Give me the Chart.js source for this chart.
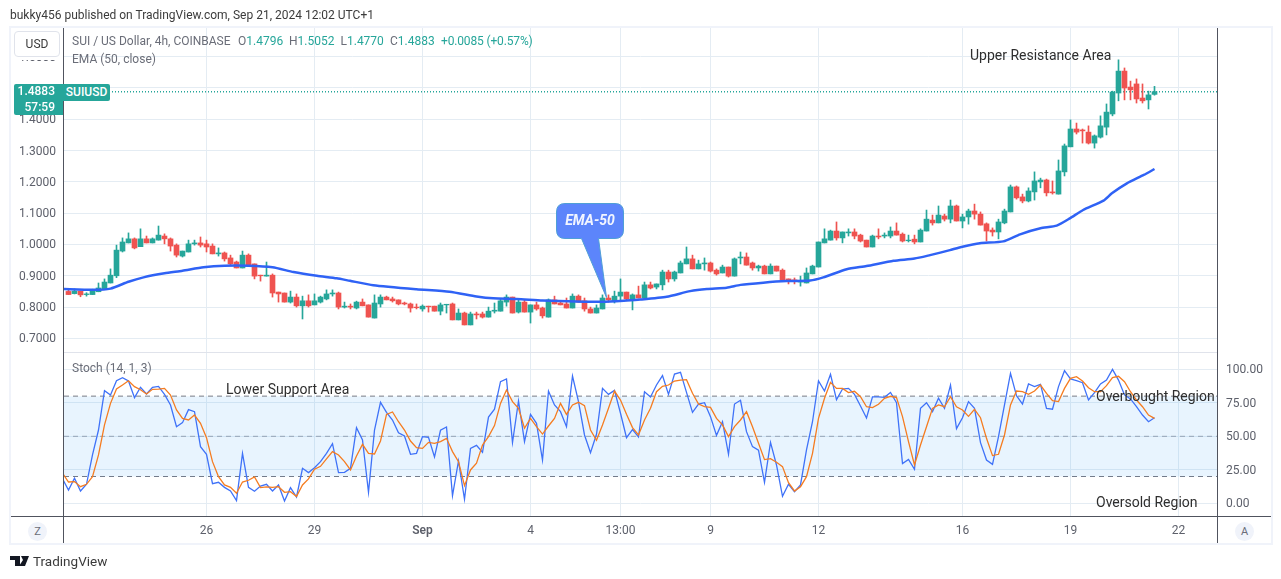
<!DOCTYPE html>
<html>
<head>
<meta charset="utf-8">
<title>SUI / US Dollar</title>
<script src="https://cdn.jsdelivr.net/npm/chart.js@4"></script>
<style>
  html, body { margin: 0; padding: 0; background: #fff; }
  body { width: 1281px; height: 579px; position: relative; overflow: hidden; font-family: Roboto, sans-serif; }
  canvas { position: absolute; left: 0; top: 0; }
  .t { position: absolute; white-space: nowrap; line-height: 16px; }
  .legend { font-size: 12px; color: #6a6d78; }
  .legend b { font-weight: 400; color: #26a69a; }
  .note { font-size: 14px; color: #2e2e2e; }
  .frame { position: absolute; }
  .tag { position: absolute; background: #26a69a; color: #fff; font-size: 12px; font-weight: 500; box-sizing: border-box; }
  .circle { position: absolute; width: 19px; height: 19px; border-radius: 50%; background: #f0f3fa; color: #6a6d78; font-size: 11px; line-height: 19px; text-align: center; }
</style>
</head>
<body>
<canvas id="priceChart" width="1281" height="579"></canvas>
<canvas id="stochChart" width="1281" height="579"></canvas>

<div class="frame" style="left:9px;top:26px;width:1260px;height:515px;border:2px solid #f0f3fa"></div>
<div class="frame" style="left:63px;top:28px;width:1px;height:515px;background:#50535e"></div>
<div class="frame" style="left:1217px;top:28px;width:1px;height:515px;background:#50535e"></div>
<div class="frame" style="left:11px;top:516px;width:1260px;height:1px;background:#50535e"></div>
<div class="frame" style="left:64px;top:352px;width:1153px;height:1px;background:#e0e3eb"></div>

<div class="t" style="left:10px;top:7px;font-size:12px;color:#3b3b3b">bukky456 published on TradingView.com, Sep 21, 2024 12:02 UTC+1</div>

<div class="frame" style="left:12px;top:29px;width:50px;height:31px;background:#fff"></div>
<div class="frame" style="left:14px;top:31px;width:44px;height:24px;border:1px solid #e0e3eb;border-radius:4px;background:#fff;font-size:12px;line-height:24px;text-align:center;color:#3b3b3b">USD</div>

<div class="t legend" style="left:72px;top:33px">SUI / US Dollar, 4h, COINBASE</div>
<div class="t legend" style="left:238px;top:33px">O<b>1.4796</b></div>
<div class="t legend" style="left:289px;top:33px">H<b>1.5052</b></div>
<div class="t legend" style="left:340.5px;top:33px">L<b>1.4770</b></div>
<div class="t legend" style="left:390px;top:33px">C<b>1.4883</b></div>
<div class="t legend" style="left:441px;top:33px;letter-spacing:-0.15px"><b>+0.0085 (+0.57%)</b></div>
<div class="t legend" style="left:72px;top:51px">EMA (50, close)</div>
<div class="t legend" style="left:72px;top:360px">Stoch (14, 1, 3)</div>

<div class="tag" style="left:14px;top:84px;width:49px;height:31px;border-radius:2px 0 0 2px;text-align:right;line-height:15.5px;padding-right:8px">1.4883<br>57:59</div>
<div class="tag" style="left:63px;top:84px;width:47px;height:17px;border-radius:0 2px 2px 0;text-align:center;line-height:17px">SUIUSD</div>

<div class="t note" style="left:970px;top:47px">Upper Resistance Area</div>
<div class="t note" style="left:226px;top:381px">Lower Support Area</div>
<div class="t note" style="left:1096px;top:388px">Overbought Region</div>
<div class="t note" style="left:1096px;top:494px">Oversold Region</div>

<svg class="frame" style="left:0;top:0" width="1281" height="579">
  <path d="M565 203.5 H615 Q623.5 203.5 623.5 212 V230 Q623.5 238.5 615 238.5 H598.5 L606.5 297.5 L581.5 238.5 H565 Q556.5 238.5 556.5 230 V212 Q556.5 203.5 565 203.5 Z" fill="#5c85fb" stroke="#4f9fd6" stroke-width="1"/>
  <text x="590" y="225" text-anchor="middle" font-family="Roboto" font-size="14" font-weight="700" font-style="italic" fill="#f2f5ff">EMA-50</text>
  <path d="M10 556 H20 V566 H15 V560 H10 Z M21 556 H29 L25 566 H19 L23 560 Z" fill="#131722"/>
</svg>
<div class="t" style="left:33px;top:553px;font-size:13.5px;color:#3b3b3b">TradingView</div>

<div class="circle" style="left:28px;top:522px">Z</div>
<div class="circle" style="left:1235px;top:522px">A</div>

<script>
// 4h candles
const opens = [
  .850,.843,.851,.840,.840,.849,.857,.877,.900,.979,
  1.005,1.018,.993,1.018,1.005,1.014,1.027,1.018,.998,.963,
  .976,1.002,1.005,1.002,.995,.970,.973,.957,.944,.925,
  .966,.938,.902,.899,.902,.848,.845,.816,.832,.804,
  .820,.807,.816,.826,.842,.845,.800,.803,.797,.816,
  .807,.765,.810,.832,.826,.823,.813,.810,.800,.794,
  .803,.803,.787,.807,.810,.759,.781,.743,.778,.778,
  .768,.787,.787,.816,.832,.784,.816,.784,.807,.797,
  .768,.823,.813,.810,.797,.835,.820,.794,.781,.794,
  .829,.820,.835,.848,.826,.839,.829,.871,.864,.871,
  .912,.890,.909,.938,.954,.922,.938,.941,.918,.909,
  .928,.899,.957,.960,.941,.925,.931,.906,.931,.918,
  .890,.887,.880,.877,.906,.928,1.005,1.014,1.043,1.021,
  1.037,1.040,1.030,1.014,.992,1.027,1.027,1.027,1.043,1.033,
  1.012,1.017,1.008,1.043,1.078,1.069,1.091,1.081,1.123,1.075,
  1.088,1.107,1.097,1.066,1.046,1.040,1.069,1.104,1.184,1.152,
  1.139,1.168,1.200,1.206,1.168,1.161,1.232,1.312,1.369,1.366,
  1.359,1.324,1.343,1.375,1.417,1.484,1.554,1.503,1.513,1.468,
  1.462,1.4796
];
const highs = [
  .857,.858,.851,.846,.857,.877,.890,.922,.998,1.021,
  1.037,1.021,1.050,1.027,1.021,1.059,1.034,1.021,1.002,.979,
  1.014,1.014,1.024,1.014,1.002,.989,.976,.966,.947,.979,
  .970,.938,.902,.944,.906,.848,.845,.851,.842,.835,
  .839,.842,.835,.855,.855,.848,.816,.810,.819,.826,
  .807,.839,.839,.835,.832,.823,.816,.813,.810,.807,
  .803,.803,.813,.809,.813,.794,.784,.784,.784,.784,
  .800,.813,.826,.839,.832,.826,.823,.807,.816,.800,
  .826,.835,.816,.829,.842,.839,.829,.800,.807,.839,
  .839,.851,.890,.848,.842,.867,.880,.880,.874,.918,
  .918,.915,.947,.992,.966,.950,.957,.944,.922,.934,
  .928,.957,.976,.973,.944,.934,.934,.938,.931,.922,
  .890,.893,.899,.925,.934,1.008,1.050,1.046,1.072,1.040,
  1.050,1.050,1.033,1.014,1.030,1.050,1.037,1.056,1.069,1.037,
  1.030,1.030,1.050,1.110,1.094,1.123,1.097,1.142,1.126,1.097,
  1.113,1.129,1.104,1.069,1.053,1.081,1.113,1.190,1.187,1.161,
  1.181,1.232,1.212,1.209,1.203,1.270,1.321,1.398,1.388,1.369,
  1.379,1.350,1.411,1.449,1.490,1.590,1.564,1.522,1.529,1.513,
  1.490,1.5052
];
const lows = [
  .840,.842,.833,.835,.840,.849,.857,.877,.894,.976,
  1.005,.986,.993,1.005,1.005,1.014,1.002,.979,.960,.960,
  .976,.998,.992,.976,.970,.963,.947,.934,.925,.925,
  .934,.890,.883,.899,.832,.816,.816,.813,.800,.762,
  .800,.807,.813,.823,.835,.794,.797,.794,.794,.804,
  .768,.765,.800,.823,.816,.807,.807,.784,.794,.787,
  .784,.787,.775,.781,.759,.759,.743,.743,.762,.765,
  .768,.781,.787,.803,.781,.781,.784,.749,.790,.765,
  .768,.810,.807,.797,.797,.816,.787,.781,.781,.794,
  .816,.813,.823,.820,.791,.829,.829,.858,.858,.855,
  .880,.883,.909,.938,.922,.922,.918,.912,.902,.909,
  .896,.899,.938,.934,.918,.915,.906,.906,.915,.883,
  .874,.874,.867,.877,.906,.928,1.005,1.014,1.014,1.005,
  1.027,1.018,1.008,.992,.992,1.018,1.021,1.021,1.030,1.008,
  1.008,1.002,1.008,1.043,1.062,1.069,1.075,1.069,1.075,1.053,
  1.065,1.081,1.062,1.011,1.027,1.018,1.066,1.104,1.145,1.133,
  1.136,1.142,1.181,1.155,1.161,1.161,1.219,1.312,1.353,1.324,
  1.321,1.308,1.340,1.350,1.411,1.459,1.462,1.462,1.452,1.452,
  1.433,1.4770
];
const closes = [
  .840,.851,.839,.842,.856,.861,.880,.902,.982,1.008,
  1.018,.989,1.018,1.005,1.018,1.030,1.018,.995,.966,.979,
  1.002,1.005,.998,.992,.970,.973,.954,.938,.925,.966,
  .934,.899,.900,.902,.845,.842,.816,.832,.804,.820,
  .804,.820,.832,.842,.845,.800,.803,.800,.816,.804,
  .768,.813,.832,.823,.820,.810,.810,.797,.798,.803,
  .801,.787,.807,.809,.759,.781,.743,.778,.775,.768,
  .787,.790,.820,.832,.781,.816,.784,.807,.794,.772,
  .823,.810,.807,.797,.835,.816,.794,.781,.797,.829,
  .823,.835,.848,.826,.839,.829,.871,.861,.874,.912,
  .890,.912,.941,.954,.922,.938,.941,.915,.906,.928,
  .899,.954,.960,.934,.925,.931,.906,.931,.915,.887,
  .885,.884,.883,.909,.931,1.008,1.018,1.043,1.021,1.040,
  1.040,1.027,1.011,.992,1.027,1.024,1.030,1.043,1.030,1.011,
  1.014,1.008,1.046,1.081,1.069,1.094,1.081,1.123,1.075,1.088,
  1.107,1.097,1.062,1.043,1.040,1.072,1.107,1.184,1.149,1.139,
  1.171,1.203,1.206,1.165,1.165,1.235,1.315,1.369,1.359,1.363,
  1.324,1.347,1.379,1.423,1.487,1.554,1.500,1.494,1.465,1.459,
  1.478,1.4883
];

// EMA 50, read at these bars
const emaBars = [-1,4,7,10,12.5,16,19,22.5,26,30,34,37.5,41.4,44.7,46.9,50.8,58,63.5,68,70.8,74.7,79,84.6,89,93,95.3,99.7,103.6,106.4,109.7,112,115.8,119.7,123.6,125.8,129.7,133,137.5,141,143.6,145.3,146.9,149,151.9,155.8,158.6,162,164.7,166.9,169.1,172.5,173.9,176.4,179.2,181];
const emaValues = [.858,.855,.859,.881,.895,.908,.916,.927,.932,.932,.927,.912,.900,.892,.884,.870,.857,.849,.834,.828,.826,.821,.818,.817,.821,.824,.833,.851,.858,.862,.871,.878,.883,.885,.895,.921,.931,.948,.955,.966,.974,.982,.993,1.004,1.010,1.0325,1.0516,1.0602,1.0836,1.1102,1.140,1.1634,1.1953,1.2221,1.2412];

const lastPrice = 1.4883;

// Stoch %K and %D, first value belongs to bar -1 (just off the left edge)
const stochK = [
  18.2,9.9,18.7,9.2,14.2,36.1,54.7,84.1,80.8,91.5,93.8,91.3,78.9,86.6,81.6,86.6,87.3,81.3,73.4,57.2,
  60.2,69.9,68.4,42.3,36.6,14.7,15.7,11.9,9.2,2.0,37.3,11.9,9.0,12.9,14.2,9.2,13.7,1.7,11.7,4.7,
  26.1,22.9,26.6,31.1,37.3,44.5,22.9,23.1,26.1,56.5,47.3,8.2,54.7,75.4,67.9,62.2,52.7,50.2,36.6,37.3,
  49.8,49.3,34.6,54.5,57.0,5.7,31.6,3.0,41.0,43.3,38.1,64.4,70.2,90.8,92.8,45.3,76.4,46.0,66.4,59.7,
  32.3,83.8,73.4,68.4,57.2,95.0,75.9,51.0,37.8,51.5,85.8,81.3,84.3,67.2,49.0,55.0,49.5,83.3,79.4,88.3,
  95.3,81.3,96.5,97.8,82.8,67.9,74.1,75.1,64.7,50.7,60.9,36.6,74.1,76.9,53.5,42.3,39.6,15.7,45.5,28.6,
  5.2,14.2,8.7,13.7,39.8,60.9,91.3,83.8,96.3,77.4,85.3,85.8,81.3,72.6,63.7,79.4,79.4,79.1,82.8,75.1,
  29.6,32.8,25.4,70.9,75.1,68.4,78.4,70.9,88.3,55.7,63.9,75.9,70.9,45.3,32.3,29.1,49.7,73.4,97.0,80.4,
  74.1,89.1,87.1,88.8,70.9,70.2,87.1,99.0,92.8,91.5,90.0,77.1,82.6,89.1,92.0,100,92.0,80.9,77.9,72.1,
  65.9,60.9,63.9
];
const stochD = [
  22.4,15.9,16.2,12.4,14.2,19.9,36.1,58.5,74.6,85.3,88.3,91.5,87.1,84.8,81.6,85.1,85.3,85.8,80.8,69.7,
  63.4,62.2,65.9,59.7,49.0,31.1,19.9,13.7,11.9,7.5,15.9,17.2,19.7,11.7,12.2,11.9,12.4,8.2,8.7,5.0,
  13.7,18.2,25.4,27.6,33.1,38.6,36.1,31.1,24.9,35.3,44.0,37.3,36.8,46.5,66.4,68.2,60.9,54.7,46.5,41.5,
  41.0,45.5,44.8,46.0,48.5,38.6,31.1,13.2,24.9,29.9,43.5,49.8,58.0,74.6,84.6,75.9,70.9,56.0,63.4,57.2,
  51.7,57.7,63.4,74.6,66.4,73.4,75.4,72.9,54.7,47.0,58.5,70.9,83.8,77.1,66.4,56.5,51.0,62.2,70.9,83.3,
  87.3,88.3,91.3,92.0,92.3,82.1,74.1,72.1,71.6,63.4,58.5,49.8,57.2,62.2,68.4,57.2,44.8,32.6,33.3,30.6,
  27.4,15.4,9.2,12.4,19.9,37.3,63.4,78.4,90.3,85.8,85.8,82.6,83.6,79.6,72.1,71.4,73.9,78.4,79.9,78.9,
  64.7,46.0,28.6,43.5,57.2,70.9,73.4,72.1,79.6,72.1,69.7,64.9,70.2,63.9,48.5,35.6,36.6,51.0,73.4,83.8,
  83.3,81.3,83.8,88.3,82.1,76.6,75.9,85.8,93.3,94.5,91.3,86.3,83.3,83.3,87.8,93.8,94.8,90.8,83.3,77.1,
  72.1,65.9,63.4
];
const stochLevels = [80, 50, 20];

const priceTicks = [0.7, 0.8, 0.9, 1.0, 1.1, 1.2, 1.3, 1.4, 1.5, 1.6];
const stochTicks = [0, 25, 50, 75, 100];
const timeTickBars = [23, 41, 59, 77, 92, 107, 125, 149, 167, 185];
const timeTickLabels = ['26', '29', 'Sep', '4', '13:00', '9', '12', '16', '19', '22'];

const UP = '#26a69a', DOWN = '#ef5350', GRID = '#e4ecf3', TEXT = '#5d606b';
const FONT = 'Roboto, sans-serif';
const xMin = -0.75, xMax = 191.4167;

const candleColors = closes.map((c, i) => c >= opens[i] ? UP : DOWN);
const toPoints = (xs, ys) => ys.map((y, i) => ({ x: xs[i], y: y }));
const barIndex = opens.map((_, i) => i);
const stochBars = stochK.map((_, i) => i - 1);

function setTicks(values) {
  return axis => { axis.ticks = values.map(v => ({ value: v })); };
}

new Chart(document.getElementById('priceChart'), {
  type: 'bar',
  data: {
    datasets: [
      { type: 'line', data: toPoints(emaBars, emaValues), borderColor: '#2f62f5', borderWidth: 2.5, pointRadius: 0, tension: 0.2 },
      { data: barIndex.map(i => ({ x: i, y: [opens[i], closes[i]] })), backgroundColor: candleColors, barThickness: 5, grouped: false },
      { data: barIndex.map(i => ({ x: i, y: [lows[i], highs[i]] })), backgroundColor: candleColors, barThickness: 1, grouped: false },
      { type: 'line', data: [{ x: xMin, y: lastPrice }, { x: xMax, y: lastPrice }], borderColor: UP, borderWidth: 1.5, borderDash: [1, 2], pointRadius: 0 }
    ]
  },
  options: {
    responsive: false,
    animation: false,
    layout: { padding: { left: 14, right: 64, top: 28, bottom: 227 } },
    plugins: { legend: { display: false }, tooltip: { enabled: false } },
    scales: {
      x: {
        type: 'linear', min: xMin, max: xMax, offset: false,
        afterBuildTicks: setTicks(timeTickBars),
        afterFit: axis => { axis.height = 0; },
        grid: { color: GRID, drawTicks: false, offset: false },
        border: { display: false },
        ticks: { display: false }
      },
      y: {
        min: 0.6565, max: 1.6917,
        afterBuildTicks: setTicks(priceTicks),
        afterFit: axis => { axis.width = 50; },
        grid: { color: GRID, drawTicks: false },
        border: { display: false },
        // 1.5000 sits behind the price tag
        ticks: { color: TEXT, font: { family: FONT, size: 12 }, padding: 8, labelOffset: 1, callback: v => v === 1.5 ? '' : v.toFixed(4) }
      }
    }
  }
});

const flatLine = level => [{ x: xMin, y: level }, { x: xMax, y: level }];

new Chart(document.getElementById('stochChart'), {
  type: 'line',
  data: {
    datasets: [
      { data: toPoints(stochBars, stochD), borderColor: '#f57c20', borderWidth: 1.3, pointRadius: 0 },
      { data: toPoints(stochBars, stochK), borderColor: '#3f72f8', borderWidth: 1.3, pointRadius: 0 },
      { data: flatLine(stochLevels[0]), borderColor: '#787b86', borderWidth: 1, borderDash: [5, 4], pointRadius: 0, backgroundColor: 'rgba(33,150,243,0.1)', fill: { target: { value: stochLevels[2] } } },
      { data: flatLine(stochLevels[1]), borderColor: '#a3a6af', borderWidth: 1, borderDash: [5, 4], pointRadius: 0 },
      { data: flatLine(stochLevels[2]), borderColor: '#787b86', borderWidth: 1, borderDash: [5, 4], pointRadius: 0 }
    ]
  },
  options: {
    responsive: false,
    animation: false,
    layout: { padding: { left: 64, right: 0, top: 353, bottom: 0 } },
    plugins: { legend: { display: false }, tooltip: { enabled: false } },
    scales: {
      x: {
        type: 'linear', min: xMin, max: xMax, offset: false,
        afterBuildTicks: setTicks(timeTickBars),
        afterFit: axis => { axis.height = 63; },
        grid: { color: GRID, drawTicks: false },
        border: { display: false },
        ticks: {
          color: TEXT, padding: 8, maxRotation: 0, autoSkip: false,
          font: ctx => ({ family: FONT, size: 12, weight: timeTickLabels[ctx.index] === 'Sep' ? '600' : '400' }),
          callback: (v, i) => timeTickLabels[i]
        }
      },
      y: {
        position: 'right',
        min: -9.48, max: 112.2,
        afterBuildTicks: setTicks(stochTicks),
        afterFit: axis => { axis.width = 64; },
        grid: { color: GRID, drawTicks: false },
        border: { display: false },
        ticks: { color: TEXT, font: { family: FONT, size: 12 }, padding: 9, labelOffset: 1, callback: v => v.toFixed(2) }
      }
    }
  }
});
</script>
</body>
</html>
